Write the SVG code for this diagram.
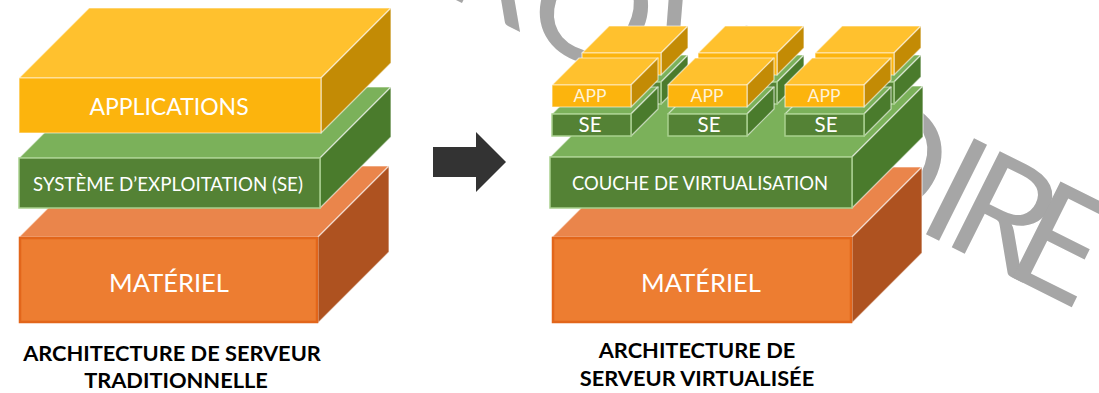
<svg xmlns="http://www.w3.org/2000/svg" width="1099" height="393" viewBox="0 0 1099 393">
  <style>
    .wm{font-family:Lato,"Open Sans","Liberation Sans",sans-serif;font-size:150px;fill:#A6A6A6;text-anchor:middle}
    .face{stroke:#FFFFFF;stroke-opacity:.6;stroke-width:1.2;stroke-linejoin:round}
    .y-top{fill:#FFC12E}.y-front{fill:#FCB40D}.y-side{fill:#C38B05}
    .g-top{fill:#7BB15A}.g-front{fill:#548235;stroke:#A9D18E;stroke-width:1.5}.g-side{fill:#4A7B2C}
    .o-top{fill:#EA854B}.o-front{fill:#ED7D31;stroke:#E2661B;stroke-width:2.5}.o-side{fill:#AE5220}
    .lbl{font-family:Lato,"Open Sans","Liberation Sans",sans-serif;fill:#FFFFFF;text-anchor:middle}
    .app{font-size:17.5px;fill-opacity:.85}
    .se{font-size:20.5px}
    .cap{font-family:Lato,"Open Sans","Liberation Sans",sans-serif;font-weight:700;font-size:21.8px;fill:#000000;text-anchor:middle}
  </style>
  <defs>
    <!-- small guest boxes, front face anchored at the origin -->
    <g id="small-se">
      <polygon class="face g-top" points="0,0 27,-27 106,-27 79,0"/>
      <polygon class="face g-side" points="79,0 106,-27 106,-5 79,22"/>
      <rect class="g-front" x="0" y="0" width="79" height="22"/>
    </g>
    <g id="small-app">
      <polygon class="face y-top" points="0,0 27,-27 106,-27 79,0"/>
      <polygon class="face y-side" points="79,0 106,-27 106,-5 79,22"/>
      <rect class="face y-front" x="0" y="0" width="79" height="22"/>
    </g>
  </defs>

  <rect width="1099" height="393" fill="#FFFFFF"/>

  <!-- background stamp lettering -->
  <g id="stamp" transform="translate(570,57) rotate(26.5)">
    <text class="wm" x="-192 -102 0 108 178 240 328 405 460 524" y="0">PROVISOIRE</text>
  </g>

  <!-- traditional server stack -->
  <g id="trad-hardware">
    <polygon class="face o-top" points="19,237 90,166 389,166 318,237"/>
    <polygon class="face o-side" points="318,237 389,166 389,252 318,323"/>
    <rect class="o-front" x="20" y="238" width="297" height="84"/>
    <text class="lbl" x="169" y="292" font-size="25.5">MATÉRIEL</text>
  </g>
  <g id="trad-os">
    <polygon class="face g-top" points="19,158 90,87 391,87 320,158"/>
    <polygon class="face g-side" points="320,158 391,87 391,137 320,208"/>
    <rect class="g-front" x="19" y="158" width="301" height="50"/>
    <text class="lbl" x="168" y="191" font-size="18.7">SYSTÈME D’EXPLOITATION (SE)</text>
  </g>
  <g id="trad-apps">
    <polygon class="face y-top" points="19,78 89,8 391,8 321,78"/>
    <polygon class="face y-side" points="321,78 391,8 391,63 321,133"/>
    <rect class="face y-front" x="19" y="78" width="302" height="55"/>
    <text class="lbl" x="169" y="115" font-size="23">APPLICATIONS</text>
  </g>
  <g id="trad-caption">
    <text class="cap" x="172" y="361">ARCHITECTURE DE SERVEUR</text>
    <text class="cap" x="176" y="388">TRADITIONNELLE</text>
  </g>

  <!-- transition arrow -->
  <g id="connectors">
    <polygon points="433,147 476,147 476,132 506,162 476,192 476,177 433,177" fill="#333333"/>
  </g>

  <!-- virtualised server stack -->
  <g id="virt-hardware">
    <polygon class="face o-top" points="552,237 622,167 922,167 852,237"/>
    <polygon class="face o-side" points="852,237 922,167 922,253 852,323"/>
    <rect class="o-front" x="553" y="238" width="298" height="84"/>
    <text class="lbl" x="701" y="292" font-size="25.5">MATÉRIEL</text>
  </g>
  <g id="virt-layer">
    <polygon class="face g-top" points="550,157 621,86 923,86 852,157"/>
    <polygon class="face g-side" points="852,157 923,86 923,137 852,208"/>
    <rect class="g-front" x="550" y="157" width="302" height="51"/>
    <text class="lbl" x="700" y="190" font-size="18.4">COUCHE DE VIRTUALISATION</text>
  </g>

  <!-- rear row of guests -->
  <g id="vm-back-1">
    <use href="#small-se" x="582" y="82"/>
    <use href="#small-app" x="582" y="53"/>
  </g>
  <g id="vm-back-2">
    <use href="#small-se" x="698" y="82"/>
    <use href="#small-app" x="698" y="53"/>
  </g>
  <g id="vm-back-3">
    <use href="#small-se" x="815" y="82"/>
    <use href="#small-app" x="815" y="53"/>
  </g>

  <!-- front row of guests -->
  <g id="vm-front-1">
    <use href="#small-se" x="552" y="114"/>
    <use href="#small-app" x="552" y="85"/>
    <text class="lbl app" x="590" y="102">APP</text>
    <text class="lbl se" x="590" y="132">SE</text>
  </g>
  <g id="vm-front-2">
    <use href="#small-se" x="668" y="114"/>
    <use href="#small-app" x="668" y="85"/>
    <text class="lbl app" x="707" y="102">APP</text>
    <text class="lbl se" x="709" y="132">SE</text>
  </g>
  <g id="vm-front-3">
    <use href="#small-se" x="785" y="114"/>
    <use href="#small-app" x="785" y="85"/>
    <text class="lbl app" x="824" y="102">APP</text>
    <text class="lbl se" x="826" y="132">SE</text>
  </g>

  <g id="virt-caption">
    <text class="cap" x="697" y="358">ARCHITECTURE DE</text>
    <text class="cap" x="697" y="386">SERVEUR VIRTUALISÉE</text>
  </g>
</svg>
